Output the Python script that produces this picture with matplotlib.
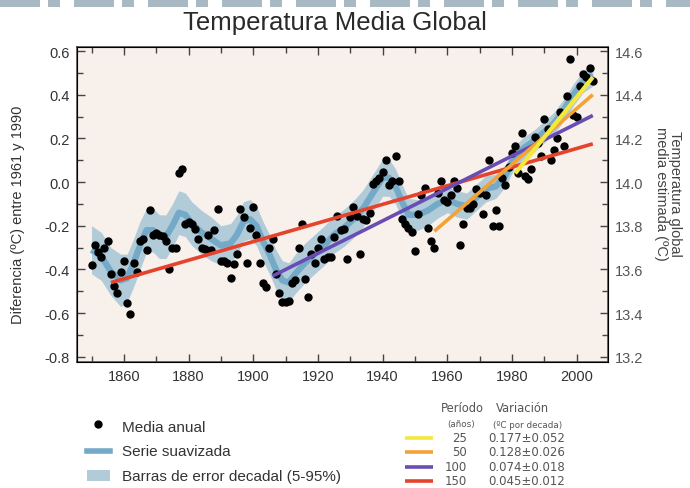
import numpy as np
import matplotlib
matplotlib.use("Agg")
import matplotlib.pyplot as plt
from matplotlib.patches import Rectangle

plt.rcParams['font.family'] = ['Liberation Sans', 'DejaVu Sans']
plt.rcParams['axes.unicode_minus'] = False

# annual anomalies (ºC, relative to 1961-1990)
years = np.arange(1850, 2006)
anual = [
    -0.38, -0.29, -0.32, -0.345, -0.30, -0.27, -0.42, -0.475, -0.51, -0.41,   # 1850s
    -0.36, -0.555, -0.605, -0.37, -0.41, -0.27, -0.26, -0.31, -0.13, -0.24,   # 1860s
    -0.235, -0.24, -0.245, -0.27, -0.40, -0.30, -0.30, 0.04, 0.06, -0.19,     # 1870s
    -0.185, -0.19, -0.215, -0.26, -0.30, -0.305, -0.24, -0.31, -0.22, -0.125, # 1880s
    -0.36, -0.36, -0.37, -0.44, -0.375, -0.33, -0.125, -0.16, -0.37, -0.21,   # 1890s
    -0.115, -0.24, -0.37, -0.46, -0.48, -0.30, -0.26, -0.42, -0.51, -0.55,    # 1900s
    -0.55, -0.545, -0.46, -0.45, -0.30, -0.19, -0.445, -0.525, -0.33, -0.37,  # 1910s
    -0.30, -0.26, -0.35, -0.345, -0.345, -0.25, -0.155, -0.22, -0.215, -0.35, # 1920s
    -0.16, -0.115, -0.155, -0.33, -0.17, -0.175, -0.14, -0.01, 0.005, 0.02,   # 1930s
    0.045, 0.10, -0.015, 0.005, 0.12, 0.005, -0.17, -0.19, -0.21, -0.23,      # 1940s
    -0.315, -0.145, -0.06, -0.025, -0.21, -0.27, -0.30, -0.05, 0.005, -0.08,  # 1950s
    -0.09, -0.06, 0.005, -0.025, -0.29, -0.19, -0.12, -0.12, -0.10, -0.03,    # 1960s
    -0.05, -0.145, -0.06, 0.10, -0.20, -0.13, -0.20, 0.02, -0.015, 0.07,      # 1970s
    0.135, 0.165, 0.04, 0.225, 0.03, 0.015, 0.06, 0.205, 0.18, 0.12,         # 1980s
    0.29, 0.245, 0.10, 0.145, 0.20, 0.32, 0.165, 0.395, 0.565, 0.305,         # 1990s
    0.30, 0.44, 0.495, 0.48, 0.52, 0.465,                                     # 2000s
]

# smoothed decadal series and its 5-95% half width
suav_years = [1850, 1853, 1856, 1859, 1861, 1863, 1865, 1867, 1869, 1871,
              1873, 1875, 1877, 1879, 1881, 1884, 1887, 1890, 1893, 1895,
              1897, 1899, 1901, 1903, 1905, 1907, 1909, 1911, 1913, 1916,
              1919, 1922, 1925, 1928, 1931, 1934, 1937, 1940, 1942, 1944,
              1946, 1948, 1951, 1954, 1957, 1960, 1963, 1966, 1969, 1972,
              1975, 1978, 1981, 1984, 1987, 1990, 1993, 1996, 1999, 2002, 2005]
suav = [-0.31, -0.34, -0.41, -0.45, -0.44, -0.37, -0.29, -0.22, -0.22, -0.25,
        -0.25, -0.20, -0.14, -0.15, -0.19, -0.23, -0.26, -0.29, -0.28, -0.24,
        -0.18, -0.17, -0.20, -0.27, -0.33, -0.40, -0.45, -0.46, -0.42, -0.37,
        -0.33, -0.29, -0.24, -0.21, -0.17, -0.12, -0.05, 0.02, 0.02, -0.02,
        -0.09, -0.15, -0.15, -0.13, -0.10, -0.08, -0.10, -0.11, -0.07, -0.03,
        -0.02, 0.03, 0.12, 0.16, 0.19, 0.23, 0.27, 0.33, 0.40, 0.46, 0.49]
error = [0.11, 0.11, 0.11, 0.12, 0.11, 0.11, 0.11, 0.10, 0.10, 0.10,
         0.10, 0.10, 0.10, 0.10, 0.10, 0.10, 0.10, 0.09, 0.09, 0.09,
         0.09, 0.09, 0.09, 0.09, 0.09, 0.09, 0.09, 0.09, 0.09, 0.09,
         0.09, 0.09, 0.085, 0.085, 0.085, 0.085, 0.085, 0.085, 0.085, 0.08,
         0.08, 0.075, 0.07, 0.07, 0.065, 0.06, 0.06, 0.06, 0.06, 0.06,
         0.055, 0.05, 0.05, 0.05, 0.05, 0.05, 0.05, 0.05, 0.05, 0.05, 0.05]

# linear trends
periodos = [150, 100, 50, 25]
variacion = ['0.045±0.012', '0.074±0.018', '0.128±0.026', '0.177±0.052']
trend_ini = [1856, 1906, 1956, 1981]
trend_fin = [2005, 2005, 2005, 2005]
trend_v0 = [-0.46, -0.43, -0.225, 0.04]
trend_v1 = [0.175, 0.305, 0.40, 0.48]
trend_col = ['#e5432c', '#6a4db3', '#f3a236', '#f4e93a']
trend_lw = [2.6, 2.6, 2.6, 3.0]

W, H = 690, 489
fig = plt.figure(figsize=(6.9, 4.89), dpi=100)

# decorative strip at the top of the picture
for x0 in range(0, W, 74):
    for dx, w in [(0, 40), (48, 12)]:
        fig.patches.append(Rectangle(((x0 + dx) / W, 1 - 8 / H), w / W, 8 / H,
                                     transform=fig.transFigure, color='#a9b9c4', lw=0))

ax = fig.add_axes([77 / W, 1 - 363.3 / H, (608 - 77) / W, (363.3 - 48.3) / H])
ax.set_facecolor('#f8f0eb')

s = np.array(suav)
e = np.array(error)
ax.fill_between(suav_years, s - e, s + e, color='#b1cbd9', lw=0, zorder=1)
ax.plot(suav_years, s, color='#74a9c8', lw=4.5, solid_capstyle='butt',
        solid_joinstyle='round', zorder=2)
ax.plot(years, anual, 'o', color='black', ms=5, zorder=3)

for i in range(len(periodos)):
    ax.plot([trend_ini[i], trend_fin[i]], [trend_v0[i], trend_v1[i]],
            color=trend_col[i], lw=trend_lw[i], solid_capstyle='butt', zorder=4)

yt = [round(v, 1) + 0.0 for v in np.arange(-0.8, 0.61, 0.2)]
yt2 = [round(v, 1) for v in np.arange(13.2, 14.61, 0.2)]

ax.set_xlim(1845.5, 2009.7)
ax.set_ylim(-0.825, 0.617)
ax.set_xticks(np.arange(1860, 2001, 20))
ax.set_xticks(np.arange(1850, 2006, 10), minor=True)
ax.set_yticks(yt)
ax.set_yticks(np.arange(-0.8, 0.61, 0.1), minor=True)
ax.set_yticklabels([f'{abs(v):.1f}' if abs(v) < 1e-9 else f'{v:.1f}' for v in yt])
ax.tick_params(which='both', direction='in', top=True, colors='#444', labelcolor='#333',
               labelsize=10.5, width=1)
ax.tick_params(which='major', length=6, pad=5)
ax.tick_params(which='minor', length=4)
for sp in ax.spines.values():
    sp.set_color('#444')
    sp.set_linewidth(1.1)

ax2 = ax.twinx()
ax2.set_ylim(-0.825 + 14.0, 0.617 + 14.0)
ax2.set_yticks(yt2)
ax2.set_yticks(np.arange(13.2, 14.61, 0.1), minor=True)
ax2.set_yticklabels([f'{v:.1f}' for v in yt2])
ax2.tick_params(which='both', direction='in', colors='#444', labelcolor='#555',
                labelsize=10.5, width=1)
ax2.tick_params(which='major', length=6, pad=5)
ax2.tick_params(which='minor', length=4)

fig.text(335 / W, 1 - 23 / H, 'Temperatura Media Global', fontsize=18.5,
         ha='center', va='center', color='#2a2a2a')
fig.text(18 / W, 1 - 215 / H, 'Diferencia (ºC) entre 1961 y 1990', fontsize=10.5,
         rotation=90, ha='center', va='center', color='#333')
fig.text(668 / W, 1 - 194 / H, 'Temperatura global\nmedia estimada (ºC)', fontsize=10.5,
         rotation=270, ha='center', va='center', color='#444', linespacing=1.0)

# legend, drawn in pixel coordinates
lg = fig.add_axes([0, 0, 1, 1], facecolor='none')
lg.set_xlim(0, W)
lg.set_ylim(H, 0)
lg.axis('off')
lg.plot([98.3], [425], 'o', color='black', ms=5)
lg.plot([87, 110], [452, 452], color='#74a9c8', lw=4)
lg.add_patch(Rectangle((87, 471), 23, 11, color='#b1cbd9', lw=0))
for ty, txt in zip([428, 452, 476.5], ['Media anual', 'Serie suavizada',
                                      'Barras de error decadal (5-95%)']):
    lg.text(121.7, ty, txt, fontsize=11, va='center', ha='left', color='#333')

tf = ['DejaVu Sans']
lg.text(462, 408, 'Período', fontsize=8.3, ha='center', va='center', color='#555', family=tf)
lg.text(522, 408, 'Variación', fontsize=8.3, ha='center', va='center', color='#555', family=tf)
lg.text(461, 425, '(años)', fontsize=6.3, ha='center', va='center', color='#555', family=tf)
lg.text(528, 425, '(ºC por decada)', fontsize=6.3, ha='center', va='center', color='#555', family=tf)
rows_y = [481.5, 467.5, 453, 438.5]
for i in range(len(periodos)):
    yy = rows_y[i]
    lg.plot([405, 433], [yy, yy], color=trend_col[i], lw=2.6, solid_capstyle='butt')
    lg.text(467, yy, str(periodos[i]), fontsize=8.5, ha='right', va='center',
            color='#555', family=tf)
    lg.text(488, yy, variacion[i], fontsize=8.5, ha='left', va='center',
            color='#555', family=tf)

fig.savefig('out.png', dpi=100)
